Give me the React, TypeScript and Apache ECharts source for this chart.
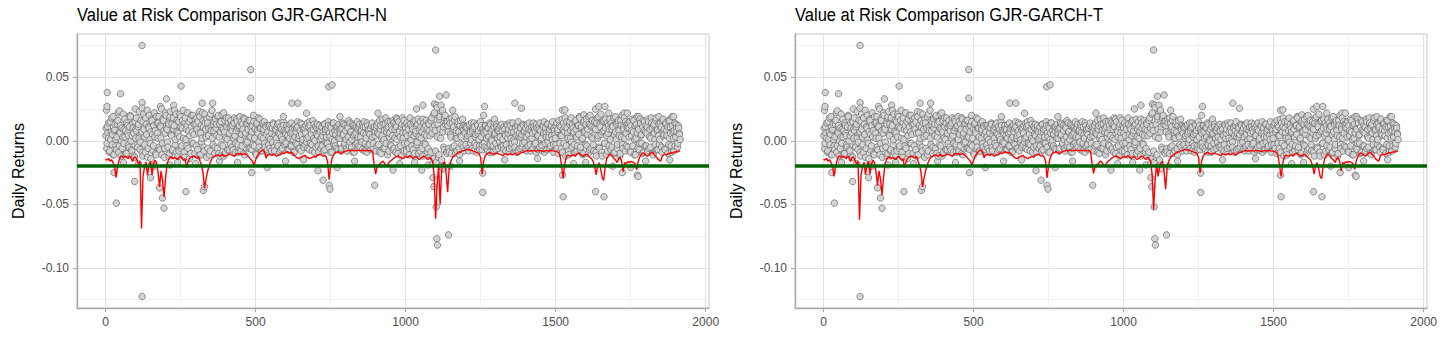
import React, { useEffect, useRef } from "react";
import * as echarts from "echarts";

const FONT = '"Liberation Sans", Arial, Helvetica, sans-serif';

const titles = ["Value at Risk Comparison GJR-GARCH-N", "Value at Risk Comparison GJR-GARCH-T"];
const yAxisTitle = "Daily Returns";
const xTicks = [0, 500, 1000, 1500, 2000];
const xMinorTicks = [250, 750, 1250, 1750];
const yTicks = [-0.1, -0.05, 0, 0.05];
const yMinorTicks = [-0.125, -0.075, -0.025, 0.025, 0.075];
const varThreshold = -0.019;

// daily returns, one every 3rd trading day starting at day 1
const returnsAStart = 1;
const returnsStep = 3;
const returnsA = [
  .004,-.006,.011,.002,-.009,.015,.007,-.003,.019,-.011,.009,.001,-.007,.013,.022,-.004,.006,-.012,.010,.003,
  -.002,.017,.008,-.010,.012,.004,-.005,.020,.000,-.008,.014,.006,-.013,.009,.018,-.003,.011,.002,-.007,.016,
  .007,-.012,.021,.003,-.009,.013,.024,-.006,.010,.001,-.014,.017,.005,-.004,.022,.008,-.011,.014,.002,.019,
  -.007,.011,.025,-.002,.016,-.013,.006,.020,.009,-.005,.013,-.010,.023,.004,-.008,.018,.012,-.003,.021,.007,
  -.012,.015,.003,.019,-.006,.010,.024,-.009,.014,.001,-.004,.022,.008,-.014,.017,.011,-.002,.020,.005,-.010,
  .013,.018,-.007,.006,.023,-.011,.012,.002,.016,-.005,.021,.009,-.013,.014,.004,.019,-.008,.011,.024,-.003,
  .008,-.010,.017,.013,-.006,.020,.003,-.012,.015,.010,-.004,.022,.007,-.009,.018,.001,.014,-.007,.011,.016,
  -.005,.012,.002,.018,-.009,.008,.015,-.003,.011,.019,-.008,.005,.013,-.010,.017,.004,-.002,.014,.009,-.006,
  .016,.003,-.007,.012,.020,-.004,.009,-.011,.014,.006,-.001,.017,.010,-.008,.013,.002,.015,-.005,.011,-.009,
  .007,-.003,.012,.001,-.008,.010,.014,-.005,.004,.009,-.002,.013,.006,-.009,.011,.003,-.006,.015,.008,-.001,
  .005,.012,-.007,.009,.002,-.004,.014,.007,-.009,.011,.003,-.002,.010,.015,-.006,.004,.008,-.008,.013,.001,
  -.005,.010,.006,-.001,.014,.003,-.007,.012,.008,-.003,.016,.002,-.009,.011,.005,.013,-.004,.009,.001,-.006,
  .011,.004,-.008,.013,.007,-.002,.010,.015,-.005,.003,.012,-.009,.006,.014,.000,-.004,.011,.008,-.007,.013,
  .002,.009,-.006,.014,.005,-.003,.012,.001,-.008,.010,.016,-.001,.007,-.005,.013,.004,-.009,.011,.006,-.002,
  .009,-.004,.013,.003,.008,-.007,.011,.015,-.002,.005,-.009,.012,.007,-.003,.010,.001,.014,-.006,.008,.004,
  -.008,.012,.006,-.003,.016,.009,-.010,.004,.013,.001,-.006,.018,.007,-.011,.011,.003,.015,-.004,.009,-.007,
  .014,.002,-.009,.011,.017,-.005,.008,.003,-.012,.013,.006,.016,-.002,.010,-.008,.004,.012,-.006,.018,.001,
  -.004,.009,.015,-.010,.006,.012,-.001,.017,.003,-.008,.011,.007,-.012,.014,.005,-.003,.016,.009,-.006,.013,
  .004,-.009,.018,.010,-.014,.022,.008,-.017,.026,.013,-.011,.019,.002,-.015,.024,.011,-.007,.020,.015,-.010,
  .012,-.006,.017,.005,-.010,.014,.009,-.004,.019,.002,-.008,.013,.007,-.011,.016,.003,.010,-.005,.012,.006,
  -.003,.011,.004,-.008,.013,.007,.001,-.006,.010,.014,-.002,.005,-.009,.012,.008,-.004,.015,.003,-.007,.009,
  .006,-.005,.012,.002,-.008,.010,.014,-.003,.007,.000,-.009,.011,.005,-.002,.013,.008,-.006,.010,.003,-.004,
  .013,.001,-.007,.009,.004,-.003,.012,.006,-.008,.014,.002,-.005,.010,.007,-.001,.011,-.009,.008,.015,.003,
  -.006,.010,.005,-.002,.012,.008,-.007,.003,.013,-.004,.009,.001,-.008,.011,.006,.014,-.003,.007,-.009,.010,
  .004,.012,-.005,.008,.002,-.008,.011,.015,-.002,.006,-.007,.013,.003,.009,-.004,.012,.001,-.009,.010,.005,
  -.003,.014,.007,-.010,.012,.004,-.006,.017,.009,-.002,.011,-.012,.015,.006,-.008,.013,.002,.018,-.005,.010,
  .007,-.009,.016,.003,-.004,.012,.019,-.007,.010,.001,-.011,.014,.008,-.003,.017,.005,-.010,.013,.020,-.006,
  .011,.002,-.008,.015,.009,-.012,.018,.004,-.005,.013,.021,-.009,.007,.016,-.002,.010,-.011,.014,.006,-.004,
  .017,-.007,.009,.012,-.010,.005,.019,.001,-.006,.014,.008,-.012,.016,.003,-.003,.011,.018,-.008,.006,.013,
  -.005,.010,.015,-.009,.004,.017,.007,-.011,.012,.002,.019,-.006,.009,-.002,.014,.005,-.010,.016,.008,-.004,
  .012,.006,-.008,.015,.003,-.005,.018,.010,-.011,.013,.001,.016,-.007,.009,.004,-.003,.014,.011,-.009,.017,
  .005,-.006,.013,.008,-.010,.016,.002,.011,-.004,.019,.007,-.008,.014,.003,.010,-.005,.012,.006,.001,
];

// daily returns, one every 3rd trading day starting at day 2
const returnsBStart = 2;
const returnsB = [
  .010,-.002,.006,.014,-.008,.001,.018,.005,-.011,.008,.013,-.004,.003,.016,-.009,.007,.012,.000,-.006,.021,
  .009,.003,-.010,.014,.006,-.003,.011,.019,-.007,.004,.010,-.012,.015,.002,.008,-.005,.013,.023,-.001,.006,
  -.009,.015,.009,-.003,.018,.005,-.013,.011,.020,-.002,.007,.016,-.008,.012,.003,-.010,.019,.006,.014,-.005,
  .012,.002,-.011,.017,.008,-.006,.022,.010,-.001,.014,-.012,.019,.005,.013,-.007,.009,.024,.001,-.009,.016,
  .006,-.008,.021,.011,-.004,.016,.002,-.013,.018,.009,.012,-.006,.015,.004,-.010,.020,.007,-.002,.013,.017,
  -.004,.009,.015,-.012,.019,.006,-.001,.022,.011,-.008,.014,.003,.017,-.006,.010,-.011,.021,.008,.002,.013,
  .015,-.005,.010,.004,.019,-.010,.013,.007,-.003,.021,.009,-.012,.016,.002,.011,-.007,.018,.006,-.002,.012,
  .008,-.007,.014,.004,-.002,.017,.010,-.009,.012,.001,.015,-.004,.009,.018,-.011,.006,.013,-.001,.016,.003,
  -.006,.011,.007,-.003,.015,.002,-.010,.013,.008,.018,-.005,.010,.003,-.008,.014,.009,-.002,.012,.005,-.007,
  .012,.003,-.006,.010,.006,-.001,.013,-.008,.008,.002,.011,-.004,.014,.005,-.007,.009,.001,.012,-.003,.007,
  -.002,.009,.004,-.007,.013,.006,-.004,.010,.001,-.009,.012,.007,-.003,.011,.002,-.006,.014,.005,-.001,.010,
  .008,-.003,.012,.002,-.006,.011,.015,-.002,.005,-.008,.009,.013,.000,-.005,.010,.004,-.009,.012,.007,.002,
  -.004,.007,.013,-.007,.009,.003,-.002,.012,.006,-.009,.010,.001,.014,-.003,.008,.005,-.006,.011,.002,.009,
  .006,-.008,.010,.004,.013,-.002,.008,-.006,.011,.003,-.004,.014,.007,.001,-.009,.012,.005,-.003,.010,.015,
  .003,.010,-.005,.008,-.001,.013,.006,-.008,.011,.002,.014,-.004,.009,.005,-.007,.012,.003,-.002,.011,.007,
  .010,-.004,.014,.005,-.009,.012,.002,.017,-.006,.008,.013,-.002,.010,.015,-.008,.006,-.003,.012,.004,.016,
  -.006,.009,.013,.001,-.010,.015,.007,-.004,.011,.018,.002,-.008,.012,.006,.014,-.002,.009,-.011,.013,.005,
  .011,-.007,.004,.016,.008,-.003,.013,-.010,.009,.015,.002,-.006,.017,.010,-.002,.012,.004,-.009,.014,.008,
  -.012,.016,.006,-.018,.021,.012,-.008,.028,.003,-.013,.017,.009,-.020,.023,.007,-.005,.018,.013,-.009,.015,
  .007,-.009,.014,.003,.018,-.005,.011,.016,-.010,.008,.002,.015,-.006,.012,.004,-.003,.017,.009,-.008,.011,
  .010,.002,-.006,.012,.005,-.002,.014,.008,-.008,.011,.003,-.004,.013,.006,.001,-.007,.010,.012,-.003,.007,
  -.002,.012,.007,-.006,.010,.003,-.009,.013,.001,.009,-.004,.014,.006,-.007,.011,.002,.008,-.001,.012,-.005,
  .008,-.004,.011,.005,-.008,.013,.002,.009,-.006,.012,.007,-.002,.014,.001,-.005,.010,.004,.012,-.007,.006,
  .011,.003,-.005,.013,.007,-.001,.010,-.008,.012,.005,.014,-.003,.008,.002,-.006,.011,.009,-.002,.013,.004,
  -.007,.009,.014,.001,-.004,.012,.006,-.009,.010,.003,.013,-.001,.007,-.006,.011,.004,.015,-.003,.008,.002,
  .012,-.006,.009,.016,-.002,.011,.004,-.009,.014,.007,.018,-.004,.010,.002,-.011,.015,.008,-.001,.013,.006,
  -.003,.015,.009,-.008,.012,.005,.018,-.005,.011,.002,-.010,.016,.007,.013,-.004,.009,.019,-.007,.012,.003,
  .016,-.003,.010,.006,-.009,.014,.002,.019,-.006,.011,.005,-.012,.015,.008,-.002,.017,.004,-.008,.012,.009,
  .001,.014,-.005,.011,.018,-.009,.007,.013,-.003,.016,.004,-.010,.012,.020,-.006,.009,.002,.015,-.004,.010,
  .014,.003,-.008,.012,.008,-.004,.016,.001,-.011,.013,.006,.010,-.007,.017,.004,-.002,.011,-.009,.015,.007,
  -.004,.011,.017,-.006,.009,.002,.014,-.010,.012,.006,-.003,.018,.008,-.007,.013,.001,.010,-.005,.016,.004,
  .009,-.007,.014,.004,.011,-.003,.016,.006,-.009,.012,.002,.008,-.004,.013,.007,-.002,.010,.005,
];

// individual large moves: day and return
const extremeDays = [
  3, 5, 6, 46, 50, 99, 122, 122, 122, 183, 203, 227, 252, 322, 357, 484, 484, 593, 621, 641, 670, 744, 755, 781, 908, 969,
  1036, 1058, 1096, 1100, 1113, 1118, 1135, 1157, 1260, 1263, 1296, 1364, 1386, 1523, 1531, 1594, 1633, 1644, 1664, 1677,
  1728, 1739, 1777, 1844, 1893,
  28, 36, 60, 97, 110, 122, 150, 160, 180, 190, 195, 215, 240, 268, 300, 326, 330, 380, 440, 487, 539, 600, 660, 708, 725,
  745, 748, 772, 830, 897, 958, 980, 1030, 1054, 1075, 1091, 1094, 1102, 1104, 1106, 1125, 1143, 1150, 1180, 1257, 1257,
  1330, 1440, 1523, 1525, 1560, 1600, 1633, 1661, 1690, 1722, 1750, 1772, 1775, 1800, 1880,
];
const extremeReturns = [
  .024, .027, .038, .0235, .037, .025, .075, .030, .0257, .027, .033, .028, .043, .0296, .0296, .056, .0335, .019, .0296, .0296, .0217, .0425, .044, .019, .0217, .018,
  .025, .028, .029, .0714, .035, .028, .036, .024, .020, .027, .017, .0296, .0256, .024, .0243, .0204, .0249, .027, .027, .0217,
  .0217, .0217, .019, .019, .019,
  -.025, -.049, -.017, -.032, -.018, -.1225, -.029, -.020, -.037, -.045, -.053, -.019, -.017, -.040, -.018, -.039, -.036, -.016, -.017, -.025, -.021, -.016, -.015, -.0235, -.031,
  -.035, -.038, -.021, -.016, -.035, -.023, -.018, -.017, -.023, -.019, -.029, -.036, -.052, -.077, -.082, -.022, -.074, -.020, -.016, -.0254, -.0406,
  -.015, -.014, -.027, -.044, -.018, -.017, -.040, -.044, -.020, -.025, -.021, -.027, -.028, -.016, -.015,
];

// 1% Value at Risk, one value every 5 trading days starting at day 0
const varStart = 0;
const varStep = 5;
const varNormal = [
  -.0145,-.0152,-.0138,-.016,-.0148,-.0172,-.0195,-.029,-.0205,-.0155,
  -.0122,-.0118,-.0134,-.0121,-.0128,-.0142,-.0119,-.0137,-.0163,-.0131,
  -.0127,-.0152,-.0184,-.0162,-.069,-.028,-.0205,-.0168,-.0272,-.0185,
  -.0162,-.0268,-.018,-.0152,-.0171,-.0248,-.0362,-.0238,-.031,-.0442,
  -.0295,-.0182,-.0148,-.0131,-.0126,-.0143,-.0129,-.0138,-.0147,-.0132,
  -.0121,-.0134,-.0152,-.0141,-.0212,-.0168,-.0139,-.0128,-.0124,-.0119,
  -.0131,-.0137,-.0122,-.0161,-.0192,-.0254,-.0372,-.0301,-.0243,-.0198,
  -.0162,-.0139,-.0126,-.0118,-.0115,-.0109,-.0121,-.0114,-.0108,-.0124,
  -.0119,-.0114,-.0108,-.0103,-.0111,-.0116,-.0122,-.0106,-.0099,-.0104,
  -.0101,-.0109,-.0104,-.0098,-.0112,-.0121,-.0134,-.0149,-.0162,-.0196,
  -.0152,-.0121,-.0104,-.0089,-.0076,-.0071,-.0086,-.0136,-.0112,-.0106,
  -.0109,-.0116,-.0104,-.0111,-.0121,-.0113,-.0109,-.0103,-.0094,-.0101,
  -.0091,-.0086,-.0092,-.0097,-.0089,-.0102,-.0116,-.0127,-.0136,-.0141,
  -.0129,-.0124,-.0118,-.0114,-.0126,-.0132,-.0141,-.0134,-.0128,-.0122,
  -.0131,-.0116,-.0109,-.0104,-.0112,-.0121,-.0114,-.0126,-.0162,-.0305,
  -.0198,-.0138,-.0109,-.0096,-.0091,-.0084,-.0092,-.0101,-.0094,-.0088,
  -.0081,-.0078,-.0075,-.0078,-.0074,-.0077,-.0079,-.0076,-.0075,-.0074,
  -.0077,-.0076,-.0074,-.0077,-.0078,-.0075,-.0079,-.0077,-.0086,-.0182,
  -.0262,-.0201,-.0188,-.0182,-.0168,-.0159,-.0178,-.0203,-.0188,-.0169,
  -.0158,-.0149,-.0138,-.0129,-.0124,-.0118,-.0126,-.0132,-.0141,-.0134,
  -.0121,-.0132,-.0124,-.0116,-.0127,-.0142,-.0129,-.0123,-.0136,-.0148,
  -.0139,-.0128,-.0119,-.0126,-.0141,-.0146,-.0129,-.0137,-.0162,-.0268,
  -.0612,-.0348,-.0192,-.0502,-.0238,-.0182,-.0163,-.0251,-.0405,-.0221,
  -.0162,-.0139,-.0121,-.0112,-.0104,-.0096,-.0091,-.0086,-.0079,-.0076,
  -.0071,-.0068,-.0072,-.0069,-.0076,-.0081,-.0084,-.0091,-.0094,-.0102,
  -.0131,-.0262,-.0161,-.0121,-.0106,-.0096,-.0091,-.0097,-.0102,-.0106,
  -.0101,-.0096,-.0102,-.0107,-.0112,-.0116,-.0101,-.0106,-.0112,-.0104,
  -.0099,-.0111,-.0104,-.0096,-.0106,-.0112,-.0101,-.0094,-.0091,-.0086,
  -.0081,-.0076,-.0079,-.0082,-.0077,-.0075,-.0079,-.0081,-.0076,-.0079,
  -.0078,-.0081,-.0086,-.0079,-.0077,-.0081,-.0076,-.0075,-.0079,-.0081,
  -.0082,-.0087,-.0091,-.0121,-.0202,-.0291,-.0189,-.0131,-.0112,-.0116,
  -.0121,-.0114,-.0109,-.0122,-.0104,-.0096,-.0102,-.0111,-.0121,-.0114,
  -.0109,-.0104,-.0121,-.0132,-.0141,-.0162,-.0201,-.0268,-.0198,-.0172,
  -.0221,-.0288,-.0312,-.0204,-.0142,-.0121,-.0104,-.0112,-.0126,-.0141,
  -.0152,-.0171,-.0139,-.0131,-.0162,-.0242,-.0172,-.0181,-.0164,-.0172,
  -.0161,-.0166,-.0172,-.0181,-.0228,-.0162,-.0129,-.0109,-.0094,-.0101,
  -.0112,-.0121,-.0114,-.0101,-.0091,-.0096,-.0112,-.0126,-.0142,-.0152,
  -.0161,-.0124,-.0109,-.0104,-.0112,-.0103,-.0098,-.0094,-.0096,-.0089,
  -.0086,-.0089,-.0082,-.0079,
];
const varStudent = [
  -.0145,-.0152,-.0138,-.016,-.0148,-.0172,-.0193,-.028,-.0203,-.0155,
  -.0122,-.0118,-.0134,-.0121,-.0128,-.0142,-.0119,-.0137,-.0163,-.0131,
  -.0127,-.0152,-.0182,-.0162,-.062,-.027,-.0203,-.0168,-.0268,-.0185,
  -.0162,-.0262,-.018,-.0152,-.0171,-.0244,-.0352,-.0236,-.0302,-.0428,
  -.0288,-.0182,-.0148,-.0131,-.0126,-.0143,-.0129,-.0138,-.0147,-.0132,
  -.0121,-.0134,-.0152,-.0141,-.0208,-.0168,-.0139,-.0128,-.0124,-.0119,
  -.0131,-.0137,-.0122,-.0161,-.0189,-.0248,-.0362,-.0296,-.0239,-.0196,
  -.0162,-.0139,-.0126,-.0118,-.0115,-.0109,-.0121,-.0114,-.0108,-.0124,
  -.0119,-.0114,-.0108,-.0103,-.0111,-.0116,-.0122,-.0106,-.0099,-.0104,
  -.0101,-.0109,-.0104,-.0098,-.0112,-.0121,-.0134,-.0149,-.0162,-.0194,
  -.0152,-.0121,-.0104,-.0089,-.0076,-.0071,-.0086,-.0134,-.0112,-.0106,
  -.0109,-.0116,-.0104,-.0111,-.0121,-.0113,-.0109,-.0103,-.0094,-.0101,
  -.0091,-.0086,-.0092,-.0097,-.0089,-.0102,-.0116,-.0127,-.0136,-.0141,
  -.0129,-.0124,-.0118,-.0114,-.0126,-.0132,-.0141,-.0134,-.0128,-.0122,
  -.0131,-.0116,-.0109,-.0104,-.0112,-.0121,-.0114,-.0126,-.0161,-.0292,
  -.0196,-.0138,-.0109,-.0096,-.0091,-.0084,-.0092,-.0101,-.0094,-.0088,
  -.0081,-.0078,-.0075,-.0078,-.0074,-.0077,-.0079,-.0076,-.0075,-.0074,
  -.0077,-.0076,-.0074,-.0077,-.0078,-.0075,-.0079,-.0077,-.0086,-.0181,
  -.0256,-.0199,-.0188,-.0182,-.0168,-.0159,-.0178,-.0201,-.0188,-.0169,
  -.0158,-.0149,-.0138,-.0129,-.0124,-.0118,-.0126,-.0132,-.0141,-.0134,
  -.0121,-.0132,-.0124,-.0116,-.0127,-.0142,-.0129,-.0123,-.0136,-.0148,
  -.0139,-.0128,-.0119,-.0126,-.0141,-.0146,-.0129,-.0137,-.0162,-.0262,
  -.054,-.031,-.0185,-.028,-.021,-.0175,-.0162,-.0244,-.038,-.0215,
  -.0162,-.0139,-.0121,-.0112,-.0104,-.0096,-.0091,-.0086,-.0079,-.0076,
  -.0071,-.0068,-.0072,-.0069,-.0076,-.0081,-.0084,-.0091,-.0094,-.0102,
  -.0131,-.0252,-.0161,-.0121,-.0106,-.0096,-.0091,-.0097,-.0102,-.0106,
  -.0101,-.0096,-.0102,-.0107,-.0112,-.0116,-.0101,-.0106,-.0112,-.0104,
  -.0099,-.0111,-.0104,-.0096,-.0106,-.0112,-.0101,-.0094,-.0091,-.0086,
  -.0081,-.0076,-.0079,-.0082,-.0077,-.0075,-.0079,-.0081,-.0076,-.0079,
  -.0078,-.0081,-.0086,-.0079,-.0077,-.0081,-.0076,-.0075,-.0079,-.0081,
  -.0082,-.0087,-.0091,-.0121,-.0198,-.0282,-.0186,-.0131,-.0112,-.0116,
  -.0121,-.0114,-.0109,-.0122,-.0104,-.0096,-.0102,-.0111,-.0121,-.0114,
  -.0109,-.0104,-.0121,-.0132,-.0141,-.0162,-.0198,-.0262,-.0196,-.0172,
  -.0218,-.0279,-.0298,-.0202,-.0142,-.0121,-.0104,-.0112,-.0126,-.0141,
  -.0152,-.0171,-.0139,-.0131,-.0162,-.0236,-.0172,-.0181,-.0164,-.0172,
  -.0161,-.0166,-.0172,-.0181,-.0224,-.0162,-.0129,-.0109,-.0094,-.0101,
  -.0112,-.0121,-.0114,-.0101,-.0091,-.0096,-.0112,-.0126,-.0142,-.0152,
  -.0161,-.0124,-.0109,-.0104,-.0112,-.0103,-.0098,-.0094,-.0096,-.0089,
  -.0086,-.0089,-.0082,-.0079,
];

const X_MIN = -95;
const X_MAX = 2011;
const Y_MIN = -0.1315;
const Y_MAX = 0.084;

// all return observations, drawn in day order (later days over earlier ones)
const scatterData: number[][] = [
  ...returnsA.map((r, i) => [returnsAStart + returnsStep * i, r]),
  ...returnsB.map((r, i) => [returnsBStart + returnsStep * i, r]),
  ...extremeDays.map((d, i) => [d, extremeReturns[i]]),
].sort((a, b) => a[0] - b[0]);
const toLine = (arr: number[]) => arr.map((v, i) => [varStart + varStep * i, v]);

const GRID_TOP = 34;
const GRID_H = 274;
const GRID_W = 632;
const LEFTS = [77, 795];

function buildOption() {
  const grid: any[] = [];
  const xAxis: any[] = [];
  const yAxis: any[] = [];
  const series: any[] = [];
  const graphic: any[] = [];
  const varSets = [varNormal, varStudent];
  LEFTS.forEach((left, p) => {
    grid.push({
      left, top: GRID_TOP, width: GRID_W, height: GRID_H,
      show: true, borderColor: "#c8c8c8", borderWidth: 1, backgroundColor: "transparent",
    });
    graphic.push({
      type: "text", x: left, y: 5, scaleX: 0.87, silent: true,
      style: {
        text: titles[p], fill: "#000", fontFamily: FONT, fontSize: 19, fontWeight: "normal",
        textAlign: "left", textVerticalAlign: "top",
      },
    });
    xAxis.push({
      type: "value", gridIndex: p, min: X_MIN, max: X_MAX, position: "bottom",
      axisLine: { show: true, onZero: false, lineStyle: { color: "#aaaaaa", width: 1.4 } },
      axisTick: { show: true, length: 4, customValues: xTicks, lineStyle: { color: "#aaaaaa" } },
      axisLabel: {
        customValues: xTicks, color: "#4d4d4d", fontSize: 12, fontFamily: FONT, margin: 8,
        formatter: (v: number) => String(v),
      },
      splitLine: { show: true, lineStyle: { color: "#e2e2e2", width: 1.1 } },
    });
    xAxis.push({
      type: "value", gridIndex: p, min: X_MIN, max: X_MAX, position: "top",
      axisLine: { show: false }, axisLabel: { show: false, customValues: xMinorTicks },
      axisTick: { show: false, customValues: xMinorTicks },
      splitLine: { show: true, lineStyle: { color: "#efefef", width: 0.9 } },
    });
    yAxis.push({
      type: "value", gridIndex: p, min: Y_MIN, max: Y_MAX, position: "left",
      name: yAxisTitle, nameLocation: "middle", nameGap: 51,
      nameTextStyle: { fontFamily: FONT, fontSize: 16, color: "#000" },
      axisLine: { show: true, onZero: false, lineStyle: { color: "#aaaaaa", width: 1.4 } },
      axisTick: { show: true, length: 4, customValues: yTicks, lineStyle: { color: "#aaaaaa" } },
      axisLabel: {
        customValues: yTicks, color: "#4d4d4d", fontSize: 12, fontFamily: FONT, margin: 8,
        formatter: (v: number) => v.toFixed(2),
      },
      splitLine: { show: true, lineStyle: { color: "#e2e2e2", width: 1.1 } },
    });
    yAxis.push({
      type: "value", gridIndex: p, min: Y_MIN, max: Y_MAX, position: "right",
      axisLine: { show: false }, axisLabel: { show: false, customValues: yMinorTicks },
      axisTick: { show: false, customValues: yMinorTicks },
      splitLine: { show: true, lineStyle: { color: "#efefef", width: 0.9 } },
    });
    const xi = p * 2;
    const yi = p * 2;
    series.push({
      type: "scatter", name: "Returns", xAxisIndex: xi, yAxisIndex: yi,
      data: scatterData, symbol: "circle", symbolSize: 6.5, z: 2,
      itemStyle: { color: "#d3d3d3", borderColor: "#666666", borderWidth: 0.7, opacity: 1 },
      emphasis: { disabled: true }, silent: true,
    });
    series.push({
      type: "line", name: "VaR", xAxisIndex: xi, yAxisIndex: yi,
      data: toLine(varSets[p]), showSymbol: false, symbol: "none", z: 3,
      lineStyle: { color: "#ff0000", width: 1.4 },
      emphasis: { disabled: true }, silent: true,
      markLine: {
        silent: true, symbol: ["none", "none"], animation: false,
        label: { show: false },
        lineStyle: { color: "#006400", width: 3.5, type: "solid" },
        emphasis: { disabled: true },
        data: [{ yAxis: varThreshold }],
      },
    });
  });
  return { animation: false, backgroundColor: "#ffffff", graphic, grid, xAxis, yAxis, series };
}

export default function App() {
  const ref = useRef<HTMLDivElement>(null);
  useEffect(() => {
    if (!ref.current) return;
    const chart = echarts.init(ref.current, undefined, { renderer: "svg" });
    chart.setOption(buildOption() as any);
    return () => chart.dispose();
  }, []);
  return (
    <div
      ref={ref}
      style={{ position: "absolute", left: 0, top: 0, width: 1440, height: 360, background: "#fff" }}
    />
  );
}
